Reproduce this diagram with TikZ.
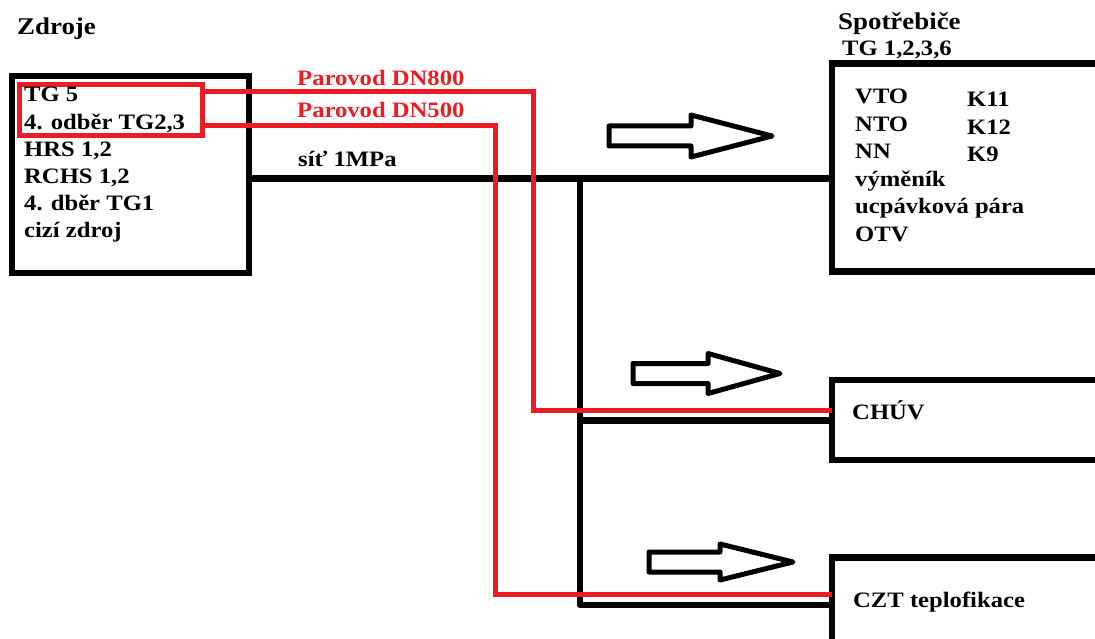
\documentclass[tikz,border=0pt]{standalone}
\usepackage{fontspec}
\setmainfont{Liberation Serif}[FakeStretch=1.12]
\usetikzlibrary{calc}
\definecolor{cPipe}{HTML}{ED1C24}
\tikzset{
  txt/.style={font=\fontsize{22}{26}\selectfont\bfseries, inner sep=0pt, anchor=base west},
  headtxt/.style={txt, font=\fontsize{24}{28}\selectfont\bfseries},
  pipetxt/.style={txt, text=cPipe},
  plantbox/.style={draw=black, line width=6.5pt, inner sep=0pt, outer sep=0pt,
    anchor=north west},
  markbox/.style={draw=cPipe, line width=5pt, inner sep=0pt, outer sep=0pt,
    anchor=north west},
  netline/.style={draw=black, line width=6.5pt, line join=round},
  pipeline/.style={draw=cPipe, line width=5pt},
  hollowarrow/.style={draw=black, line width=5pt, line join=round},
}

\begin{document}
\begin{tikzpicture}[x=1pt, y=-1pt]
  \useasboundingbox (0,0) rectangle (1095,639);
  \clip (0,0) rectangle (1095,639);

  % ----------------------------------------------------------------
  % Sources (left)
  % ----------------------------------------------------------------
  \node[headtxt] (zdrojehead) at (17,35) {Zdroje};
  \node[plantbox, minimum width=237pt, minimum height=197pt] (zdroje) at (12,76) {};
  \node[markbox, minimum width=183pt, minimum height=51pt] (tgbox) at (19,84.5) {};
  \foreach \t [count=\i from 0] in {TG 5, {4. odběr TG2,3}, {HRS 1,2},
      {RCHS 1,2}, 4. dběr TG1, cizí zdroj} {
    \node[txt] (src-\i) at (24,102+27.2*\i) {\t};
  }

  % ----------------------------------------------------------------
  % Consumers (right, cut by the page edge)
  % ----------------------------------------------------------------
  \node[headtxt] (spotrhead) at (838,30) {Spotřebiče};
  \node[txt] (spotrtg) at (842,56) {TG 1,2,3,6};
  \node[plantbox, minimum width=300pt, minimum height=208pt] (spotr) at (832,63.7) {};
  \foreach \t [count=\i from 0] in {VTO, NTO, NN, výměník, ucpávková pára, OTV} {
    \node[txt] (use-\i) at (855,104+27.4*\i) {\t};
  }
  \foreach \t [count=\i from 0] in {K11, K12, K9} {
    \node[txt] (kot-\i) at (967,107+27.2*\i) {\t};
  }

  \node[plantbox, minimum width=300pt, minimum height=80pt] (chuv) at (832,380) {};
  \node[txt] (chuvtxt) at (852,419) {CHÚV};

  \node[plantbox, minimum width=300pt, minimum height=120pt] (czt) at (832,557.5) {};
  \node[txt] (czttxt) at (853,607) {CZT teplofikace};

  % ----------------------------------------------------------------
  % Black 1MPa network
  % ----------------------------------------------------------------
  \coordinate (split) at (580,178.5);
  \coordinate (tapchuv) at (580,420.5);
  \coordinate (tapczt) at (580,605);
  \draw[netline] (zdroje.east |- split) -- (spotr.west |- split);
  \draw[netline] (split) |- (chuv.west |- tapchuv);
  \draw[netline] (split) |- (czt.west |- tapczt);
  \node[txt] (sitlabel) at (298,167) {síť 1MPa};

  % ----------------------------------------------------------------
  % Hollow flow arrows
  % ----------------------------------------------------------------
  \foreach \ax/\ay/\sl/\tl/\hh in {609/136/82/163/21, 633/373.5/75/147/20, 649/562/71/144/18} {
    \draw[hollowarrow] (\ax,\ay-10) -- ++(\sl,0) -- (\ax+\sl,\ay-\hh) -- (\ax+\tl,\ay)
      -- (\ax+\sl,\ay+\hh) -- (\ax+\sl,\ay+10) -- (\ax,\ay+10) -- cycle;
  }

  % ----------------------------------------------------------------
  % Red steam lines
  % ----------------------------------------------------------------
  \coordinate (k800) at (533,410);
  \coordinate (k500) at (495.5,594.5);
  \draw[pipeline] ([yshift=18.5pt]tgbox.east) -| (k800) -- (chuv.west |- k800);
  \draw[pipeline] ([yshift=-15.5pt]tgbox.east) -| (k500) -- (czt.west |- k500);
  \node[pipetxt] (dn800) at (297,86) {Parovod DN800};
  \node[pipetxt] (dn500) at (297,118) {Parovod DN500};

\end{tikzpicture}
\end{document}
